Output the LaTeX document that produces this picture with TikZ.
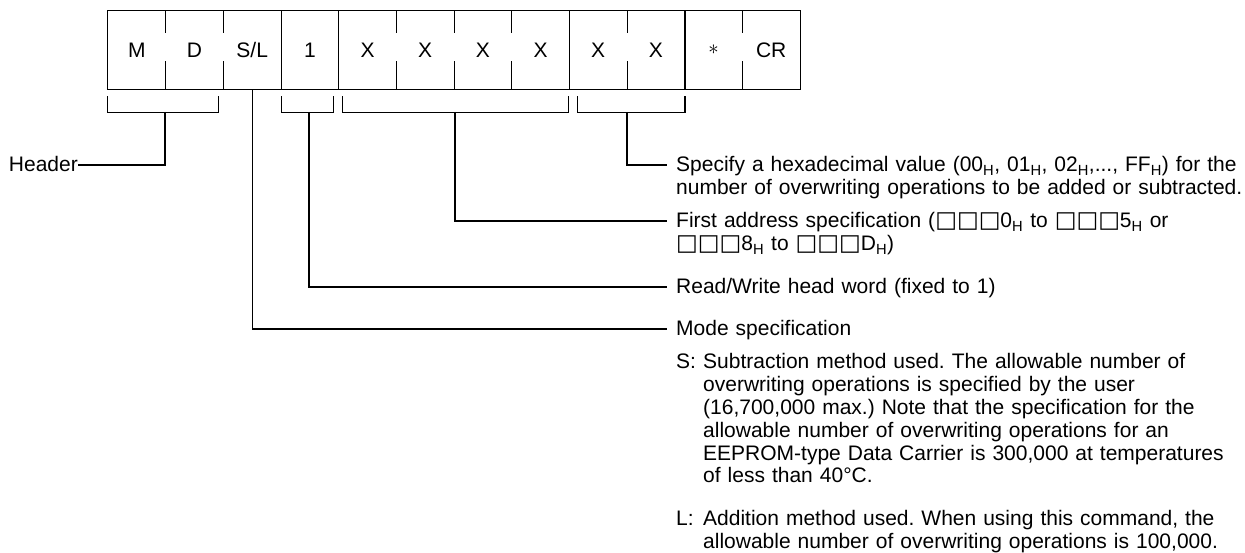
\documentclass[tikz,border=0pt]{standalone}
\usepackage{fontspec}
\setmainfont{Liberation Sans}
\newfontfamily\boxfont{DejaVu Sans}
\usetikzlibrary{positioning}
\frenchspacing
\newcommand{\dgfont}{\fontsize{21}{23}\selectfont}
\newcommand{\hx}{\textsubscript{H}}
\newcommand{\sqs}{{\boxfont\fontsize{23}{23}\selectfont □□□}}

\begin{document}
\begin{tikzpicture}[x=1pt, y=-1pt,
    frame/.style={line width=1.2pt},
    cell/.style={minimum width=57.67pt, minimum height=78pt, inner sep=0pt, font=\dgfont},
    bracket/.style={line width=1.2pt},
    leader/.style={line width=1.2pt},
    note/.style={anchor=base west, inner sep=0pt, align=left, text width=570pt, font=\dgfont}
  ]

  \useasboundingbox (0,0) rectangle (1245,553);

  % Command frame
  \foreach \t [count=\i] in {M,D,S/L,1,X,X,X,X,X,X,$\ast$,CR}
    \node[cell] (c\i) at ({108+(\i-0.5)*57.67},50) {\t};
  \draw[frame] (c1.north west) rectangle (c12.south east);

  % Field borders and digit ticks
  \foreach \i in {3,4,8,10}
    \draw[frame] (c\i.north east) -- (c\i.south east);
  \foreach \i in {1,2,5,6,7,9,11} {
    \draw[frame] (c\i.north east) -- ++(0,22);
    \draw[frame] (c\i.south east) -- ++(0,-28);
  }

  % Brackets under the fields
  \draw[bracket] ([yshift=-7pt]c1.south west) -- ++(0,16) -| ([xshift=-5pt,yshift=-7pt]c2.south east);
  \draw[bracket] ([xshift=1pt,yshift=-7pt]c4.south west) -- ++(0,16) -| ([xshift=-5pt,yshift=-7pt]c4.south east);
  \draw[bracket] ([xshift=4pt,yshift=-7pt]c5.south west) -- ++(0,16) -| ([xshift=-1pt,yshift=-7pt]c8.south east);
  \draw[bracket] ([xshift=8pt,yshift=-7pt]c9.south west) -- ++(0,16) -| ([yshift=-7pt]c10.south east);

  \coordinate (hdrb) at (165,112);
  \coordinate (oneb) at (309,112);
  \coordinate (adrb) at (455,112);
  \coordinate (cntb) at (627,112);

  % Labels
  \node[anchor=base east, inner sep=0pt, font=\dgfont] (hdr) at (78,172) {Header};

  \node[note] (spec) at (676,172) {Specify a hexadecimal value (00\hx, 01\hx, 02\hx,..., FF\hx) for the\\
    number of overwriting operations to be added or subtracted.};
  \node[note] (addr) at (676,228) {First address specification (\sqs 0\hx{} to \sqs 5\hx{} or\\
    \sqs 8\hx{} to \sqs D\hx)};
  \node[note] (rw) at (676,294) {Read/Write head word (fixed to 1)};
  \node[note] (mode) at (676,336) {Mode specification};

  \node[note] (subm) at (676,368) {\makebox[27pt][l]{S:}Subtraction method used. The allowable number of\\
    \hspace*{27pt}overwriting operations is specified by the user\\
    \hspace*{27pt}(16,700,000 max.) Note that the specification for the\\
    \hspace*{27pt}allowable number of overwriting operations for an\\
    \hspace*{27pt}EEPROM-type Data Carrier is 300,000 at temperatures\\
    \hspace*{27pt}of less than 40°C.};
  \node[note] (addm) at (676,525) {\makebox[27pt][l]{L:}Addition method used. When using this command, the\\
    \hspace*{27pt}allowable number of overwriting operations is 100,000.};

  % Leaders
  \draw[leader] (hdrb) |- ([yshift=7pt]hdr.base east);
  \draw[leader] (cntb) |- ([xshift=-9pt,yshift=7pt]spec.base west);
  \draw[leader] (adrb) |- ([xshift=-9pt,yshift=7pt]addr.base west);
  \draw[leader] (oneb) |- ([xshift=-9pt,yshift=7pt]rw.base west);
  \draw[leader] (c3.south) |- ([xshift=-9pt,yshift=7pt]mode.base west);

\end{tikzpicture}
\end{document}
